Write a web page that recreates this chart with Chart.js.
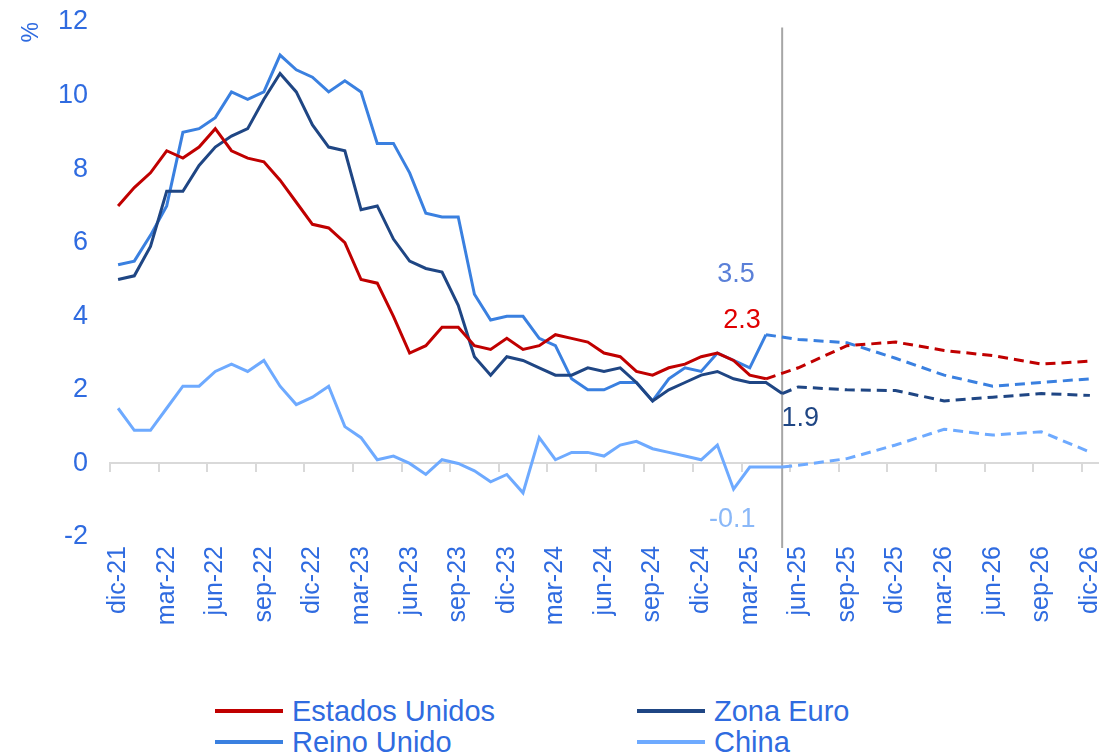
<!DOCTYPE html>
<html>
<head>
<meta charset="utf-8">
<script src="https://cdn.jsdelivr.net/npm/chart.js@4.4.1/dist/chart.umd.min.js"></script>
<style>
  body { margin: 0; background: #fff; font-family: "Liberation Sans", Arial, sans-serif; }
  #wrap { position: relative; width: 1105px; height: 756px; overflow: hidden; }
  #box { position: absolute; left: 0; top: 0; width: 1105px; height: 690px; }
  .item { position: absolute; display: flex; align-items: center; height: 30px; line-height: 30px;
          font-size: 29px; color: #2f6be0; white-space: nowrap; }
  .swatch { width: 68px; height: 4px; margin-right: 9px; }
</style>
</head>
<body>
<div id="wrap">
  <div id="box"><canvas id="inflChart"></canvas></div>
  <div id="legend"></div>
</div>
<script>
// categorias (mensual, dic-21 a dic-26)
var months = [
  'dic-21',
  'ene-22','feb-22','mar-22','abr-22','may-22','jun-22','jul-22','ago-22','sep-22','oct-22','nov-22','dic-22',
  'ene-23','feb-23','mar-23','abr-23','may-23','jun-23','jul-23','ago-23','sep-23','oct-23','nov-23','dic-23',
  'ene-24','feb-24','mar-24','abr-24','may-24','jun-24','jul-24','ago-24','sep-24','oct-24','nov-24','dic-24',
  'ene-25','feb-25','mar-25','abr-25','may-25','jun-25','jul-25','ago-25','sep-25','oct-25','nov-25','dic-25',
  'ene-26','feb-26','mar-26','abr-26','may-26','jun-26','jul-26','ago-26','sep-26','oct-26','nov-26','dic-26'
];

// datos observados
var usActual = [7.0, 7.5, 7.9, 8.5, 8.3, 8.6, 9.1, 8.5, 8.3, 8.2, 7.7, 7.1, 6.5,
  6.4, 6.0, 5.0, 4.9, 4.0, 3.0, 3.2, 3.7, 3.7, 3.2, 3.1, 3.4,
  3.1, 3.2, 3.5, 3.4, 3.3, 3.0, 2.9, 2.5, 2.4, 2.6, 2.7, 2.9,
  3.0, 2.8, 2.4, 2.3];
var ezActual = [5.0, 5.1, 5.9, 7.4, 7.4, 8.1, 8.6, 8.9, 9.1, 9.9, 10.6, 10.1, 9.2,
  8.6, 8.5, 6.9, 7.0, 6.1, 5.5, 5.3, 5.2, 4.3, 2.9, 2.4, 2.9,
  2.8, 2.6, 2.4, 2.4, 2.6, 2.5, 2.6, 2.2, 1.7, 2.0, 2.2, 2.4,
  2.5, 2.3, 2.2, 2.2, 1.9];
var ukActual = [5.4, 5.5, 6.2, 7.0, 9.0, 9.1, 9.4, 10.1, 9.9, 10.1, 11.1, 10.7, 10.5,
  10.1, 10.4, 10.1, 8.7, 8.7, 7.9, 6.8, 6.7, 6.7, 4.6, 3.9, 4.0,
  4.0, 3.4, 3.2, 2.3, 2.0, 2.0, 2.2, 2.2, 1.7, 2.3, 2.6, 2.5,
  3.0, 2.8, 2.6, 3.5];
var cnActual = [1.5, 0.9, 0.9, 1.5, 2.1, 2.1, 2.5, 2.7, 2.5, 2.8, 2.1, 1.6, 1.8,
  2.1, 1.0, 0.7, 0.1, 0.2, 0.0, -0.3, 0.1, 0.0, -0.2, -0.5, -0.3,
  -0.8, 0.7, 0.1, 0.3, 0.3, 0.2, 0.5, 0.6, 0.4, 0.3, 0.2, 0.1,
  0.5, -0.7, -0.1, -0.1, -0.1];

// previsiones trimestrales
var fcMonths = ['jun-25', 'sep-25', 'dic-25', 'mar-26', 'jun-26', 'sep-26', 'dic-26'];
var usForecast = [2.6, 3.2, 3.3, 3.07, 2.93, 2.7, 2.78];
var ezForecast = [2.08, 2.0, 1.98, 1.7, 1.8, 1.9, 1.85];
var ukForecast = [3.37, 3.28, 2.86, 2.4, 2.1, 2.2, 2.3];
var cnForecast = [-0.05, 0.13, 0.5, 0.93, 0.77, 0.86, 0.31];

var yTicks = [-2, 0, 2, 4, 6, 8, 10, 12];
var lastActualMonth = 'may-25';

var tickBlue = '#2f6be0';
var series = [
  { name: 'Estados Unidos', color: '#c00000', actual: usActual, forecast: usForecast, label: '#e00000', dx: -24, dy: -58 },
  { name: 'Zona Euro', color: '#1f4684', actual: ezActual, forecast: ezForecast, label: '#1f4684', dx: 18, dy: 25 },
  { name: 'Reino Unido', color: '#3a80e0', actual: ukActual, forecast: ukForecast, label: '#5b80d8', dx: -30, dy: -60 },
  { name: 'China', color: '#6eaaff', actual: cnActual, forecast: cnForecast, label: '#8ab8f8', dx: -50, dy: 52 }
];

var datasets = [];
series.forEach(function (s) {
  datasets.push({
    label: s.name,
    data: s.actual,
    borderColor: s.color,
    borderWidth: 3,
    pointRadius: 0,
    tension: 0,
    xAxisID: 'x'
  });
});
series.forEach(function (s) {
  var last = s.actual.length - 1;
  var pts = [{ x: months[last], y: s.actual[last] }];
  fcMonths.forEach(function (m, i) { pts.push({ x: m, y: s.forecast[i] }); });
  datasets.push({
    label: s.name + ' (previsión)',
    data: pts,
    borderColor: s.color,
    borderWidth: 3,
    borderDash: [10, 6],
    pointRadius: 0,
    tension: 0,
    xAxisID: 'x'
  });
});
// línea vertical que separa datos y previsión
datasets.push({
  label: 'corte',
  data: [{ x: lastActualMonth, y: -2.3 }, { x: lastActualMonth, y: 11.85 }],
  borderColor: '#a6a6a6',
  borderWidth: 2,
  pointRadius: 0,
  clip: false,
  xAxisID: 'x',
  order: 10
});

// etiquetas con el último dato
var endLabels = {
  id: 'endLabels',
  afterDatasetsDraw: function (chart) {
    var ctx = chart.ctx;
    series.forEach(function (s, i) {
      var idx = s.actual.length - 1;
      var pt = chart.getDatasetMeta(i).data[idx];
      ctx.save();
      ctx.font = '27px "Liberation Sans", Arial, sans-serif';
      ctx.fillStyle = s.label;
      ctx.textAlign = 'center';
      ctx.textBaseline = 'middle';
      ctx.fillText(s.actual[idx].toFixed(1), pt.x + s.dx, pt.y + s.dy);
      ctx.restore();
    });
  }
};

function noPad(scale) {
  scale.paddingLeft = 0;
  scale.paddingRight = 0;
  scale.paddingTop = 0;
  scale.paddingBottom = 0;
}

var ctx = document.getElementById('inflChart').getContext('2d');
var inflChart = new Chart(ctx, {
  type: 'line',
  data: { labels: months, datasets: datasets },
  plugins: [endLabels],
  options: {
    responsive: true,
    maintainAspectRatio: false,
    animation: false,
    layout: { padding: { top: 22, right: 7, left: 0, bottom: 0 } },
    plugins: { legend: { display: false }, tooltip: { enabled: false } },
    scales: {
      x: {
        type: 'category',
        labels: months,
        offset: true,
        position: { y: 0 },
        grid: {
          offset: true,
          drawOnChartArea: false,
          tickLength: 8,
          lineWidth: 2,
          color: function (c) { return c.index % 3 === 0 ? '#d9d9d9' : 'rgba(0,0,0,0)'; }
        },
        border: { color: '#d9d9d9', width: 2 },
        ticks: { display: false },
        afterFit: noPad
      },
      x2: {
        type: 'category',
        labels: months,
        offset: true,
        position: 'bottom',
        grid: { display: false, drawTicks: false },
        border: { display: false },
        afterFit: function (scale) { scale.height = 153; noPad(scale); },
        ticks: {
          autoSkip: false,
          minRotation: 90,
          maxRotation: 90,
          padding: 9,
          color: tickBlue,
          font: { family: '"Liberation Sans", Arial, sans-serif', size: 25 },
          callback: function (v, i) { return i % 3 === 0 ? months[i] : ''; }
        }
      },
      y: {
        min: -2,
        max: 12,
        afterBuildTicks: function (scale) { scale.ticks = yTicks.map(function (v) { return { value: v }; }); },
        afterFit: function (scale) { scale.width = 110; noPad(scale); },
        grid: { display: false, drawTicks: false },
        border: { display: false },
        title: {
          display: true,
          text: '%',
          align: 'end',
          color: tickBlue,
          font: { family: '"Liberation Sans", Arial, sans-serif', size: 23 },
          padding: { top: 18, bottom: 0 }
        },
        ticks: {
          color: tickBlue,
          padding: 22,
          font: { family: '"Liberation Sans", Arial, sans-serif', size: 27 }
        }
      }
    }
  }
});

// leyenda en dos columnas
var legendPos = [[215, 696], [637, 696], [215, 727], [637, 727]];
var legend = document.getElementById('legend');
series.forEach(function (s, j) {
  var item = document.createElement('div');
  item.className = 'item';
  item.style.left = legendPos[j][0] + 'px';
  item.style.top = legendPos[j][1] + 'px';
  item.innerHTML = '<span class="swatch" style="background:' + s.color + '"></span><span>' + s.name + '</span>';
  legend.appendChild(item);
});
</script>
</body>
</html>
